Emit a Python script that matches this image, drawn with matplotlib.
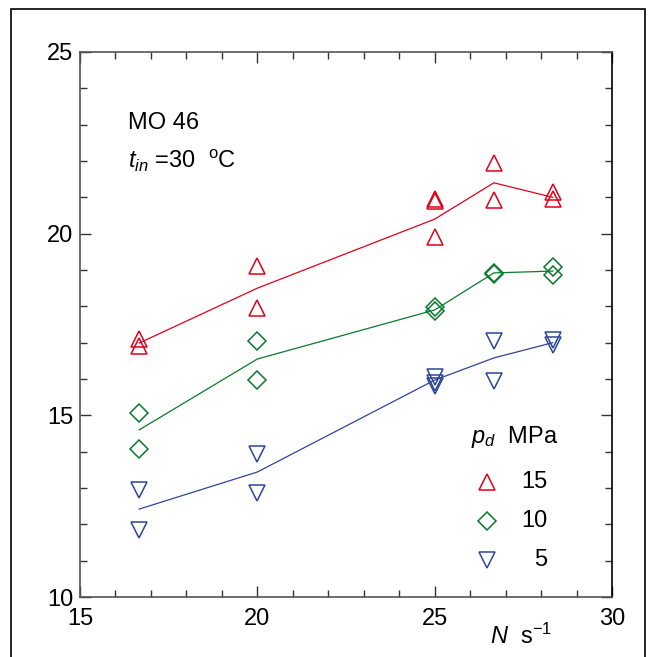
import numpy as np
import matplotlib.pyplot as plt
from matplotlib.patches import Rectangle
from matplotlib.ticker import MultipleLocator

plt.rcParams['font.family'] = ['Liberation Sans', 'DejaVu Sans']
plt.rcParams['mathtext.fontset'] = 'custom'
plt.rcParams['mathtext.rm'] = 'Liberation Sans'
plt.rcParams['mathtext.it'] = 'Liberation Sans:italic'

# Rotational speed N, s^-1
speed = [16.67, 20.0, 25.0, 26.67, 28.33]

# measured points (two or more runs per speed)
pts_15_x = [16.67, 16.67, 20.0, 20.0, 25.0, 25.0, 25.0, 26.67, 26.67, 28.33, 28.33]
pts_15_y = [17.1, 16.9, 19.1, 17.95, 20.95, 20.9, 19.9, 21.95, 20.93, 21.15, 20.95]
pts_10_x = [16.67, 16.67, 20.0, 20.0, 25.0, 25.0, 26.67, 26.67, 28.33, 28.33]
pts_10_y = [15.06, 14.07, 17.05, 15.97, 17.98, 17.88, 18.92, 18.88, 19.08, 18.86]
pts_5_x = [16.67, 16.67, 20.0, 20.0, 25.0, 25.0, 25.0, 26.67, 26.67, 28.33, 28.33]
pts_5_y = [12.94, 11.84, 13.93, 12.86, 16.05, 15.9, 15.82, 17.04, 15.94, 17.07, 16.93]

# fitted curves
fit_15 = [16.99, 18.5, 20.4, 21.4, 21.0]
fit_10 = [14.6, 16.55, 17.9, 18.92, 18.97]
fit_5 = [12.42, 13.44, 15.97, 16.58, 17.0]

red = '#e2001a'
green = '#0a7a2c'
blue = '#2c4599'
fs = 17

fig = plt.figure(figsize=(6.52, 6.57), dpi=100)
ax = fig.add_axes([80 / 652, 60 / 657, 532 / 652, 545 / 657])

# outer frame
fig.patches.append(Rectangle((11 / 652, -0.05), 634 / 652, 1.05 - 9 / 657,
                             transform=fig.transFigure, fill=False,
                             edgecolor='black', linewidth=1.2))

ax.plot(speed, fit_15, color=red, lw=0.9)
ax.plot(speed, fit_10, color=green, lw=0.9)
ax.plot(speed, fit_5, color=blue, lw=0.9)

ax.plot(pts_15_x, pts_15_y, '^', ms=12, mfc='none', mec=red, mew=1.1)
ax.plot(pts_10_x, pts_10_y, 'D', ms=9.5, mfc='none', mec=green, mew=1.1)
ax.plot(pts_5_x, pts_5_y, 'v', ms=12, mfc='none', mec=blue, mew=1.1)

ax.set_xlim(15, 30)
ax.set_ylim(10, 25)
ax.xaxis.set_major_locator(MultipleLocator(5))
ax.xaxis.set_minor_locator(MultipleLocator(1))
ax.yaxis.set_major_locator(MultipleLocator(5))
ax.yaxis.set_minor_locator(MultipleLocator(1))
ax.tick_params(which='both', direction='in', top=True, right=True,
               labelsize=fs, colors='#333333', labelcolor='black')
ax.tick_params(which='major', length=8, width=1)
ax.tick_params(which='minor', length=5, width=1)
ax.tick_params(axis='x', pad=8)
ax.tick_params(axis='y', pad=5)
for s in ax.spines.values():
    s.set_color('#555555')
    s.set_linewidth(1.2)
ax.spines['right'].set_color('black')

ax.text(0.09, 0.87, 'MO 46', transform=ax.transAxes, fontsize=fs,
        va='center', ha='left')
ax.text(0.09, 0.80, r'$t_{in}$ =30  $^{\rm o}$C', transform=ax.transAxes,
        fontsize=fs, va='center', ha='left')

ax.text(0.83, -0.073, r'$N$  s$^{-1}$', transform=ax.transAxes,
        fontsize=fs, va='center', ha='center', clip_on=False)

# legend
ax.text(0.735, 0.294, r'$p_d$  MPa', transform=ax.transAxes, fontsize=fs,
        va='center', ha='left')
leg = [('15', '^', red, 12), ('10', 'D', green, 9.5), ('5', 'v', blue, 12)]
for (lab, mk, col, ms), yy in zip(leg, [0.211, 0.139, 0.068]):
    ax.plot([0.765], [yy], mk, ms=ms, mfc='none', mec=col, mew=1.1,
            transform=ax.transAxes)
    ax.text(0.878, yy, lab, transform=ax.transAxes, fontsize=fs,
            va='center', ha='right')

fig.savefig('out.png', dpi=100)
